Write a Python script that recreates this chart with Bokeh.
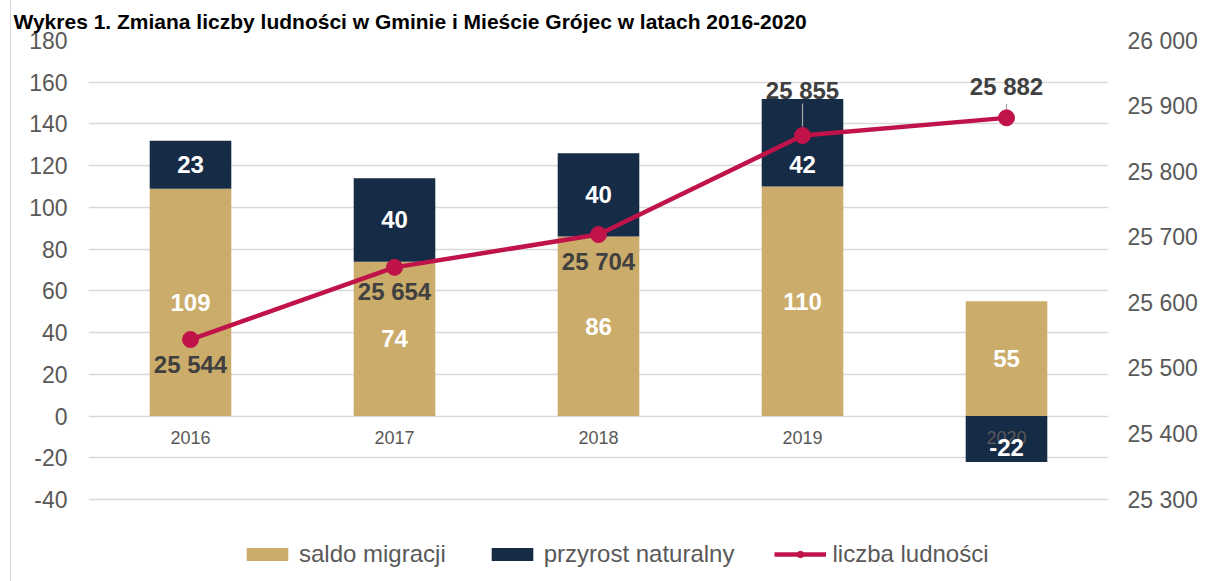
from bokeh.plotting import figure
from bokeh.models import (Range1d, LinearAxis, FixedTicker, Legend, LegendItem)
from bokeh.embed import file_html
from bokeh.resources import INLINE
from bokeh.core.properties import value

# ---------------- data ----------------
title_text = "Wykres 1. Zmiana liczby ludności w Gminie i Mieście Grójec w latach 2016-2020"
years = ["2016", "2017", "2018", "2019", "2020"]
saldo_migracji = [109, 74, 86, 110, 55]
przyrost_naturalny = [23, 40, 40, 42, -22]
liczba_ludnosci = [25544, 25654, 25704, 25855, 25882]
left_ticks = [-40, -20, 0, 20, 40, 60, 80, 100, 120, 140, 160, 180]
right_ticks = [25300, 25400, 25500, 25600, 25700, 25800, 25900, 26000]
series_names = ["saldo migracji", "przyrost naturalny", "liczba ludności"]

# ---------------- styles / layout ----------------
GOLD = "#CBAC6A"
NAVY = "#162B45"
RED = "#C0134A"
AXIS_TXT = "#595959"
LBL_DARK = "#404040"
GRID = "#D9D9D9"
FONT = "Liberation Sans"

SHIFT = 11                      # css left margin + border of the chart box
W, H = 1209 - SHIFT, 581
TOP, LEFT, RIGHT = 40, 88 - SHIFT, 101
AXIS_PX = 459                   # pixel height of the tick span (-40..180)
LEGEND_PX = H - TOP - AXIS_PX   # room below the value axis kept for the legend

def fmt(v):
    return f"{v:,}".replace(",", " ")

# stacking like Excel: positives stack on saldo, negatives go below zero
prz_bottom = [s if v >= 0 else 0 for s, v in zip(saldo_migracji, przyrost_naturalny)]
prz_top = [s + v if v >= 0 else v for s, v in zip(saldo_migracji, przyrost_naturalny)]
saldo_mid = [s / 2 for s in saldo_migracji]
prz_mid = [(b + t) / 2 for b, t in zip(prz_bottom, prz_top)]
prz_lbl_dy = [0, 0, 0, 22, 9]
pop_lbl_dy = [25, 24, 27, -45, -31]

L_MIN, L_MAX = left_ticks[0], left_ticks[-1]
R_MIN, R_MAX = right_ticks[0], right_ticks[-1]
l_per_px = (L_MAX - L_MIN) / AXIS_PX
r_per_px = (R_MAX - R_MIN) / AXIS_PX

p = figure(x_range=years, y_range=Range1d(L_MIN - LEGEND_PX * l_per_px, L_MAX),
           width=W, height=H, output_backend="svg", toolbar_location=None,
           min_border_left=LEFT, min_border_right=RIGHT, min_border_top=TOP, min_border_bottom=0)
p.styles = {"margin-left": "10px", "border-left": "1px solid #D9D9D9"}
p.extra_y_ranges = {"right": Range1d(R_MIN - LEGEND_PX * r_per_px, R_MAX)}
p.outline_line_color = None
p.background_fill_color = "white"
p.border_fill_color = "white"

p.title.text = title_text
p.title.text_font = FONT
p.title.text_font_size = "21px"
p.title.text_font_style = "bold"
p.title.text_color = "#000000"
p.title.align = "left"
p.title.offset = -LEFT + 2
p.title.standoff = 15

p.xaxis.visible = False
p.xgrid.visible = False
p.ygrid.ticker = FixedTicker(ticks=left_ticks)
p.ygrid.grid_line_color = GRID
p.ygrid.grid_line_width = 1.3

ya = p.yaxis[0]
ya.ticker = FixedTicker(ticks=left_ticks)
ya.major_label_overrides = {t: str(t) for t in left_ticks}
ya.axis_line_color = None
ya.major_tick_line_color = None
ya.minor_tick_line_color = None
ya.major_label_text_font = FONT
ya.major_label_text_font_size = "23px"
ya.major_label_text_color = AXIS_TXT
ya.major_label_standoff = 15

ra = LinearAxis(y_range_name="right", ticker=FixedTicker(ticks=right_ticks))
ra.major_label_overrides = {t: fmt(t) for t in right_ticks}
ra.axis_line_color = None
ra.major_tick_line_color = None
ra.minor_tick_line_color = None
ra.major_label_text_font = FONT
ra.major_label_text_font_size = "23px"
ra.major_label_text_color = AXIS_TXT
ra.major_label_standoff = 13
p.add_layout(ra, "right")

b1 = p.vbar(x=years, bottom=0, top=saldo_migracji, width=0.4, fill_color=GOLD, line_color=None)
b2 = p.vbar(x=years, bottom=prz_bottom, top=prz_top, width=0.4, fill_color=NAVY, line_color=None)

# category labels at the zero line
p.text(x=years, y=[0] * len(years), text=years, y_offset=21,
       text_font=value(FONT), text_font_size="18px", text_color=AXIS_TXT,
       text_align="center", text_baseline="middle")

# bar value labels
p.text(x=years, y=saldo_mid, text=[str(v) for v in saldo_migracji],
       text_font=value(FONT), text_font_size="24px", text_font_style="bold",
       text_color="white", text_align="center", text_baseline="middle")
p.text(x=years, y=prz_mid, text=[str(v) for v in przyrost_naturalny], y_offset=prz_lbl_dy,
       text_font=value(FONT), text_font_size="24px", text_font_style="bold",
       text_color="white", text_align="center", text_baseline="middle")

# leader lines for labels placed above
lead_idx = [3, 4]
lead_from = [9, 7]
lead_to = [32, 14]
p.segment(x0=[years[i] for i in lead_idx], x1=[years[i] for i in lead_idx],
          y0=[liczba_ludnosci[i] + a * r_per_px for i, a in zip(lead_idx, lead_from)],
          y1=[liczba_ludnosci[i] + b * r_per_px for i, b in zip(lead_idx, lead_to)],
          y_range_name="right", line_color="#A6A6A6", line_width=1.2)

ln = p.line(x=years, y=liczba_ludnosci, y_range_name="right", line_color=RED, line_width=4.5)
sc = p.scatter(x=years, y=liczba_ludnosci, y_range_name="right", size=16,
               fill_color=RED, line_color=RED)

p.text(x=years, y=liczba_ludnosci, text=[fmt(v) for v in liczba_ludnosci], y_offset=pop_lbl_dy,
       y_range_name="right", text_font=value(FONT), text_font_size="24px",
       text_font_style="bold", text_color=LBL_DARK, text_align="center", text_baseline="middle")

legend = Legend(items=[
    LegendItem(label=series_names[0], renderers=[b1]),
    LegendItem(label=series_names[1], renderers=[b2]),
    LegendItem(label=series_names[2], renderers=[ln, sc]),
], orientation="horizontal", location=(153, 13))
legend.border_line_color = None
legend.background_fill_alpha = 0
legend.padding = 5
legend.margin = 0
legend.glyph_width = 52
legend.glyph_height = 16
legend.label_standoff = 6
legend.spacing = 40
legend.label_text_font = FONT
legend.label_text_font_size = "24px"
legend.label_text_color = AXIS_TXT
p.add_layout(legend, "center")

open("out.html", "w").write(file_html(p, INLINE))
